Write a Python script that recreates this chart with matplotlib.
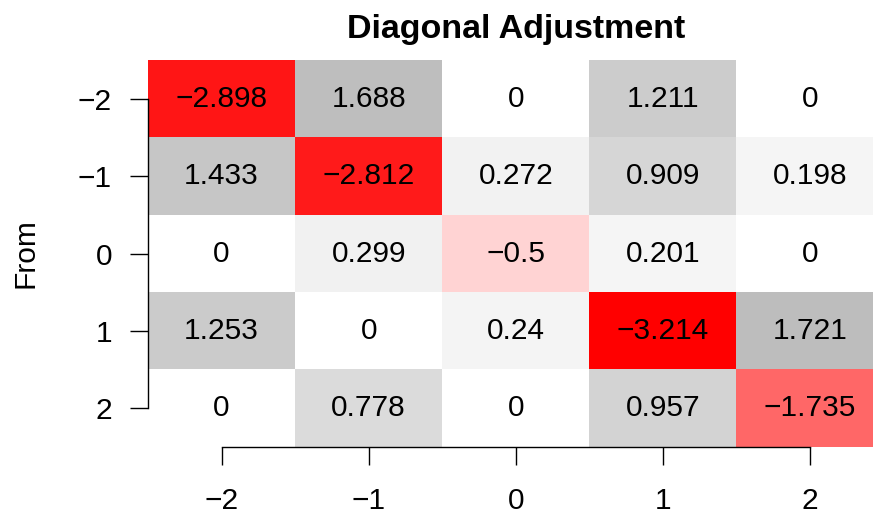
import matplotlib
matplotlib.use("Agg")
import matplotlib.pyplot as plt
import numpy as np
from matplotlib.colors import LinearSegmentedColormap, TwoSlopeNorm

plt.rcParams["font.family"] = ["Liberation Sans", "DejaVu Sans"]
plt.rcParams["axes.unicode_minus"] = True

# states for both axes
states = [-2, -1, 0, 1, 2]
title = "Diagonal Adjustment"
ylabel = "From"

# adjustment matrix: rows = from state, columns = to state
row_m2 = [-2.898, 1.688, 0, 1.211, 0]
row_m1 = [1.433, -2.812, 0.272, 0.909, 0.198]
row_0 = [0, 0.299, -0.5, 0.201, 0]
row_p1 = [1.253, 0, 0.24, -3.214, 1.721]
row_p2 = [0, 0.778, 0, 0.957, -1.735]

values = np.array([row_m2, row_m1, row_0, row_p1, row_p2])

# red for negative entries, white at zero, grey for positive entries
cmap = LinearSegmentedColormap.from_list(
    "adj",
    [(0.0, (1.0, 0.0, 0.0)),
     (0.23, (1.0, 0.41, 0.41)),
     (0.5, (1.0, 1.0, 1.0)),
     (0.78, (0.83, 0.83, 0.83)),
     (1.0, (0.745, 0.745, 0.745))],
    N=255,
)
norm = TwoSlopeNorm(vmin=values.min(), vcenter=0.0, vmax=values.max())

fig = plt.figure(figsize=(8.73, 5.15), dpi=100)
ax = fig.add_axes([148 / 873, 1 - 447 / 515, 735.5 / 873, 387 / 515])

ax.imshow(values, cmap=cmap, norm=norm, aspect="auto",
          extent=(states[0] - 0.5, states[-1] + 0.5,
                  states[-1] + 0.5, states[0] - 0.5),
          interpolation="nearest")

for i, fr in enumerate(states):
    for j, to in enumerate(states):
        txt = f"{values[i, j]:g}".replace("-", "\u2212")
        ax.text(to, fr, txt, ha="center", va="center", fontsize=21.5, color="black")

ax.set_xlim(states[0] - 0.5, states[-1] + 0.5)
ax.set_ylim(states[-1] + 0.5, states[0] - 0.5)
ax.set_xticks(states)
ax.set_yticks(states)
ax.set_xticklabels([str(s).replace("-", "\u2212") for s in states])
ax.set_yticklabels([str(s).replace("-", "\u2212") for s in states])

for side in ("top", "right"):
    ax.spines[side].set_visible(False)
ax.spines["left"].set_bounds(states[0], states[-1])
ax.spines["bottom"].set_bounds(states[0], states[-1])
for side in ("left", "bottom"):
    ax.spines[side].set_linewidth(1.0)
    ax.spines[side].set_zorder(3)

ax.tick_params(axis="both", length=13, width=1.0, labelsize=21.5, colors="black")
ax.tick_params(axis="y", pad=13)
ax.tick_params(axis="x", pad=16)

ax.set_title(title, fontsize=24.5, fontweight="bold", pad=16)
fig.text(25 / 873, 1 - 253 / 515, ylabel, rotation=90, ha="center", va="center",
         fontsize=21.5)

fig.savefig("out.png", dpi=100)
